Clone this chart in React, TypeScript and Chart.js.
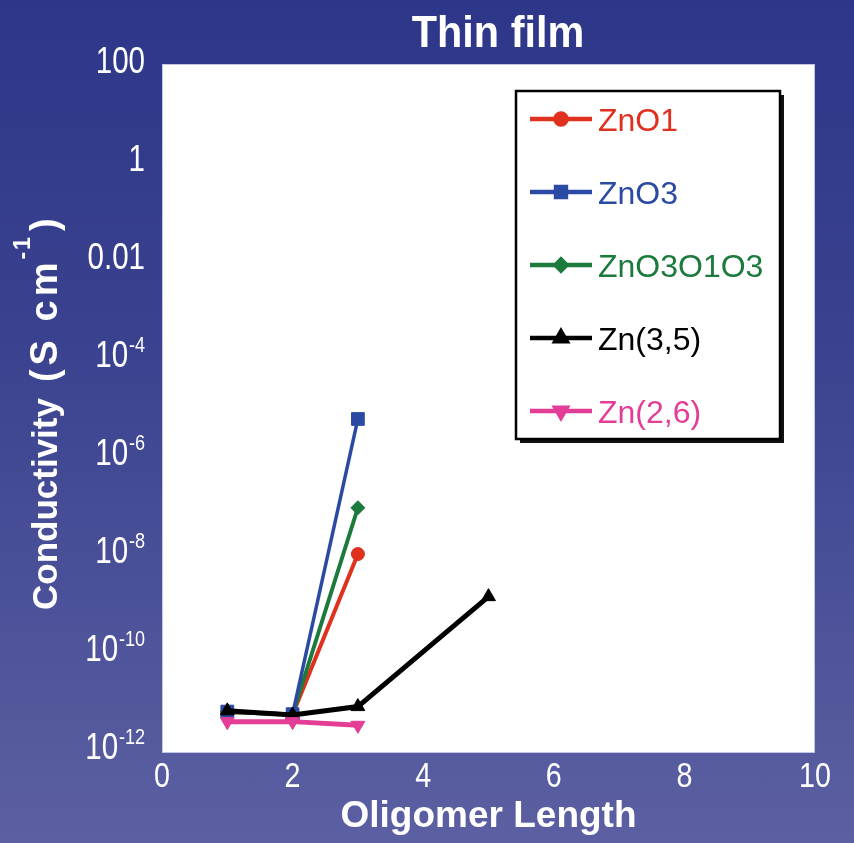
import React, { useEffect, useRef } from 'react';
import { Chart, registerables } from 'chart.js';
import { drawPoint } from 'chart.js/helpers';

Chart.register(...registerables);

// ---- data ----
const xShort = [1, 2, 3];
const xLong = [1, 2, 3, 5];
const seriesNames = ['ZnO1', 'ZnO3', 'ZnO3O1O3', 'Zn(3,5)', 'Zn(2,6)'];
const znO1 = [6.0e-12, 5.3e-12, 1.0e-8];
const znO3 = [6.1e-12, 5.4e-12, 5.7e-6];
const znO3O1O3 = [6.0e-12, 5.3e-12, 8.8e-8];
const zn35 = [6.3e-12, 5.2e-12, 7.7e-12, 1.35e-9];
const zn26 = [3.8e-12, 3.8e-12, 3.2e-12];
const xTickValues = [0, 2, 4, 6, 8, 10];
const xTickLabels = ['0', '2', '4', '6', '8', '10'];
const yTickValues = [1e2, 1, 1e-2, 1e-4, 1e-6, 1e-8, 1e-10, 1e-12];
const yTickBase = ['100', '1', '0.01', '10', '10', '10', '10', '10'];
const yTickExp = ['', '', '', '-4', '-6', '-8', '-10', '-12'];
const titleText = 'Thin film';
const xTitle = 'Oligomer Length';
const yTitleMain = 'Conductivity';
const yTitleUnit = '(S cm';
const yTitleExp = '-1';
const yTitleClose = ')';

const MAIN_FONT = "'Liberation Sans', Arial, Helvetica, sans-serif";

const toPoints = (xs: number[], ys: number[]) => xs.map((x, i) => ({ x, y: ys[i] }));

const whiteArea = {
  id: 'whiteArea',
  beforeDraw(chart: any) {
    const { ctx, chartArea } = chart;
    ctx.save();
    ctx.fillStyle = '#ffffff';
    ctx.fillRect(chartArea.left, chartArea.top, chartArea.right - chartArea.left, chartArea.bottom - chartArea.top);
    ctx.strokeStyle = 'rgba(190,192,230,0.9)';
    ctx.lineWidth = 1;
    ctx.strokeRect(chartArea.left + 0.5, chartArea.top + 0.5, chartArea.right - chartArea.left - 1, chartArea.bottom - chartArea.top - 1);
    ctx.restore();
  },
};

// tick labels, title and y-axis title drawn with superscripts / condensed type
const textLayer = {
  id: 'textLayer',
  afterDraw(chart: any) {
    const { ctx, scales, chartArea } = chart;
    const xs = scales.x;
    const ys = scales.y;
    const sx = 0.82;
    ctx.save();
    ctx.fillStyle = '#ffffff';
    ctx.textBaseline = 'alphabetic';

    // y tick labels
    yTickValues.forEach((v, i) => {
      const py = ys.getPixelForValue(v) - 4;
      const base = yTickBase[i];
      const exp = yTickExp[i];
      ctx.save();
      ctx.translate(chartArea.left - 17, py + 12.5);
      ctx.scale(sx, 1);
      ctx.textAlign = 'right';
      let xr = 0;
      if (exp) {
        ctx.font = `22px ${MAIN_FONT}`;
        ctx.fillText(exp, 0, -15);
        xr = -ctx.measureText(exp).width - 1;
      }
      ctx.font = `36px ${MAIN_FONT}`;
      ctx.fillText(base, xr, 0);
      ctx.restore();
    });

    // x tick labels
    xTickValues.forEach((v, i) => {
      const px = xs.getPixelForValue(v);
      ctx.save();
      ctx.translate(px, chartArea.bottom + 34);
      ctx.scale(sx, 1);
      ctx.textAlign = 'center';
      ctx.font = `35px ${MAIN_FONT}`;
      ctx.fillText(xTickLabels[i], 0, 0);
      ctx.restore();
    });

    // chart title
    ctx.save();
    ctx.translate(498, 47);
    ctx.scale(0.92, 1);
    ctx.textAlign = 'center';
    ctx.font = `bold 45px ${MAIN_FONT}`;
    ctx.fillText(titleText, 0, 0);
    ctx.restore();

    // y title (rotated, reads bottom to top)
    ctx.save();
    ctx.translate(57, 610);
    ctx.rotate(-Math.PI / 2);
    ctx.textAlign = 'left';
    let pos = 0;
    ctx.font = `bold 35px ${MAIN_FONT}`;
    ctx.fillText(yTitleMain, pos, 0);
    pos += ctx.measureText(yTitleMain).width + 16;
    ctx.font = `bold 38px ${MAIN_FONT}`;
    (ctx as any).letterSpacing = '4px';
    ctx.fillText(yTitleUnit, pos, 0);
    pos += ctx.measureText(yTitleUnit).width - 1;
    ctx.font = `bold 23px ${MAIN_FONT}`;
    (ctx as any).letterSpacing = '2px';
    ctx.fillText(yTitleExp, pos, -27);
    pos += ctx.measureText(yTitleExp).width + 4;
    ctx.font = `bold 38px ${MAIN_FONT}`;
    (ctx as any).letterSpacing = '0px';
    ctx.fillText(yTitleClose, pos, 0);
    ctx.restore();

    ctx.restore();
  },
};

const boxLegend = {
  id: 'boxLegend',
  afterDatasetsDraw(chart: any) {
    const { ctx } = chart;
    const left = 516, top = 91, right = 780, bottom = 439;
    ctx.save();
    ctx.fillStyle = '#111';
    ctx.fillRect(left + 4, top + 4, right - left, bottom - top);
    ctx.fillStyle = '#fff';
    ctx.fillRect(left, top, right - left, bottom - top);
    ctx.strokeStyle = '#000';
    ctx.lineWidth = 2.5;
    ctx.strokeRect(left, top, right - left, bottom - top);
    chart.data.datasets.forEach((ds: any, i: number) => {
      const y = 119 + i * 73;
      ctx.strokeStyle = ds.borderColor;
      ctx.lineWidth = 4.5;
      ctx.beginPath();
      ctx.moveTo(530, y);
      ctx.lineTo(592, y);
      ctx.stroke();
      ctx.fillStyle = ds.borderColor;
      ctx.strokeStyle = ds.borderColor;
      drawPoint(ctx, { pointStyle: ds.pointStyle, radius: ds.legendRadius, rotation: ds.pointRotation || 0, borderWidth: 1 } as any, 561, y);
      ctx.fillStyle = ds.borderColor;
      ctx.font = `32px ${MAIN_FONT}`;
      ctx.textAlign = 'left';
      ctx.textBaseline = 'alphabetic';
      ctx.fillText(ds.label, 598, y + 12);
    });
    ctx.restore();
  },
};

export default function App() {
  const canvasRef = useRef<HTMLCanvasElement | null>(null);

  useEffect(() => {
    if (!canvasRef.current) return;
    const mk = (label: string, pts: any[], color: string, style: string, radius: number, legendRadius: number, width: number, order: number, rotation = 0) => ({
      label,
      data: pts,
      borderColor: color,
      backgroundColor: color,
      pointBackgroundColor: color,
      pointBorderColor: color,
      pointStyle: style,
      pointRadius: radius,
      pointRotation: rotation,
      pointBorderWidth: 1,
      borderWidth: width,
      legendRadius,
      order,
      tension: 0,
    });
    const chart = new Chart(canvasRef.current, {
      type: 'line',
      data: {
        datasets: [
          mk(seriesNames[0], toPoints(xShort, znO1), '#e0301e', 'circle', 6.5, 5.5, 4, 4),
          mk(seriesNames[1], toPoints(xShort, znO3), '#2b4aa3', 'rect', 9, 7, 3.5, 2),
          mk(seriesNames[2], toPoints(xShort, znO3O1O3), '#1c7a3c', 'rectRot', 7, 5.5, 4, 3),
          mk(seriesNames[3], toPoints(xLong, zn35), '#000000', 'triangle', 8, 6.5, 5, 1),
          mk(seriesNames[4], toPoints(xShort, zn26), '#e33d96', 'triangle', 8, 6.5, 5, 0, 180),
        ] as any,
      },
      options: {
        animation: false,
        responsive: false,
        layout: { padding: { left: 0, right: 39, top: 64, bottom: 0 } },
        plugins: {
          legend: { display: false },
          tooltip: { enabled: false },
          title: { display: false },
        },
        scales: {
          x: {
            type: 'linear',
            min: 0,
            max: 10,
            border: { display: false },
            grid: { display: false, drawTicks: false },
            afterBuildTicks: (scale: any) => {
              scale.ticks = xTickValues.map((v) => ({ value: v }));
            },
            afterFit: (scale: any) => {
              scale.height = 90;
            },
            ticks: { display: false },
            title: {
              display: true,
              text: xTitle,
              color: '#ffffff',
              font: { family: MAIN_FONT, size: 37, weight: 'bold' as any, lineHeight: 1.2 },
              padding: { top: 0, bottom: 4 },
            },
          },
          y: {
            type: 'logarithmic',
            min: 8.7e-13,
            max: 100,
            border: { display: false },
            grid: { display: false, drawTicks: false },
            afterBuildTicks: (scale: any) => {
              scale.ticks = yTickValues.map((v) => ({ value: v }));
            },
            afterFit: (scale: any) => {
              scale.width = 162;
            },
            ticks: { display: false },
            title: { display: false },
          },
        },
      } as any,
      plugins: [whiteArea, boxLegend, textLayer],
    });
    return () => chart.destroy();
  }, []);

  return (
    <div
      style={{
        position: 'absolute',
        left: 0,
        top: 0,
        width: 854,
        height: 843,
        background: 'linear-gradient(180deg, #2d3688 0%, #3a428f 40%, #5c60a2 100%)',
      }}
    >
      <canvas ref={canvasRef} width={854} height={843} style={{ display: 'block' }} />
    </div>
  );
}
